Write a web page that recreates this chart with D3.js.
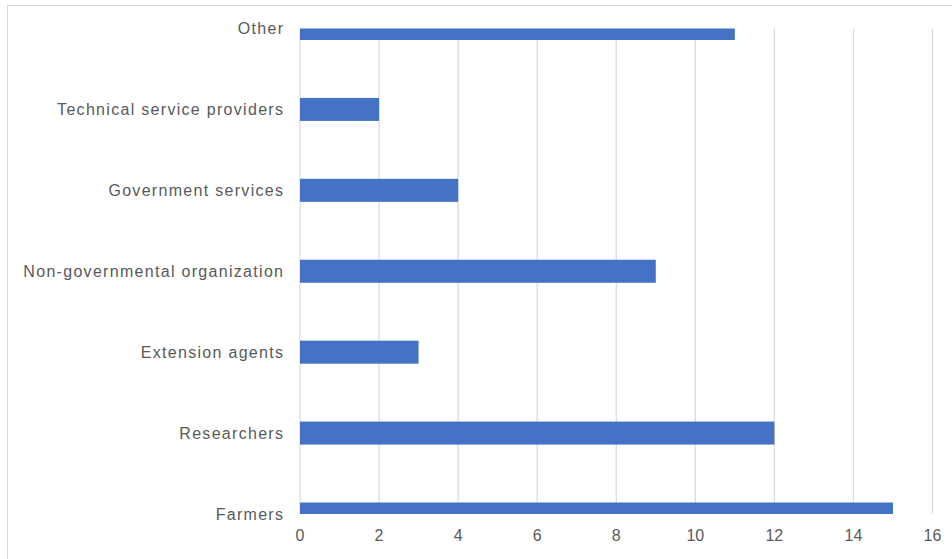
<!DOCTYPE html>
<html><head><meta charset="utf-8">
<script src="https://cdn.jsdelivr.net/npm/d3@7"></script>
<style>
html,body{margin:0;padding:0;background:#fff;}
svg{display:block;}
text{font-family:"Liberation Sans","Open Sans",sans-serif;fill:#595959;}
</style></head>
<body><svg id="chart" width="952" height="559"></svg>
<script>
const categories = ["Other","Technical service providers","Government services","Non-governmental organization","Extension agents","Researchers","Farmers"];
const values = [11,2,4,9,3,12,15];
const xTicks = [0,2,4,6,8,10,12,14,16];

const svg = d3.select("#chart");
const W = 952, H = 559;
const plot = {left:300, right:932.5, top:28.5, bottom:514};

// chart frame
svg.append("rect").attr("x",7.5).attr("y",5.5).attr("width",W+10).attr("height",H+10)
  .attr("fill","#fff").attr("stroke","#d9d9d9").attr("stroke-width",1);

const x = d3.scaleLinear().domain([0,16]).range([plot.left,plot.right]);
const y = d3.scalePoint().domain(categories).range([plot.top,plot.bottom]).padding(0);
const barH = 23;

svg.append("defs").append("clipPath").attr("id","clip").append("rect")
  .attr("x",plot.left).attr("y",plot.top).attr("width",plot.right-plot.left).attr("height",plot.bottom-plot.top);

// gridlines
svg.append("g").selectAll("line").data(xTicks).join("line")
  .attr("x1",d=>x(d)).attr("x2",d=>x(d))
  .attr("y1",plot.top).attr("y2",plot.bottom)
  .attr("stroke","#d9d9d9").attr("stroke-width",1.2);

// bars
svg.append("g").attr("clip-path","url(#clip)").selectAll("rect").data(values).join("rect")
  .attr("x",x(0)).attr("y",(d,i)=>y(categories[i])-barH/2)
  .attr("width",d=>x(d)-x(0)).attr("height",barH)
  .attr("fill","#4472c4");

// category labels
svg.append("g").selectAll("text").data(categories).join("text")
  .attr("x",284.3).attr("y",d=>y(d)).attr("dy","0.35em")
  .attr("text-anchor","end").attr("font-size",16).attr("letter-spacing","1.3px").text(d=>d);

// tick labels
svg.append("g").selectAll("text").data(xTicks).join("text")
  .attr("x",d=>x(d)).attr("y",535.5).attr("dy","0.35em")
  .attr("text-anchor","middle").attr("font-size",16).text(d=>d);
</script></body></html>
